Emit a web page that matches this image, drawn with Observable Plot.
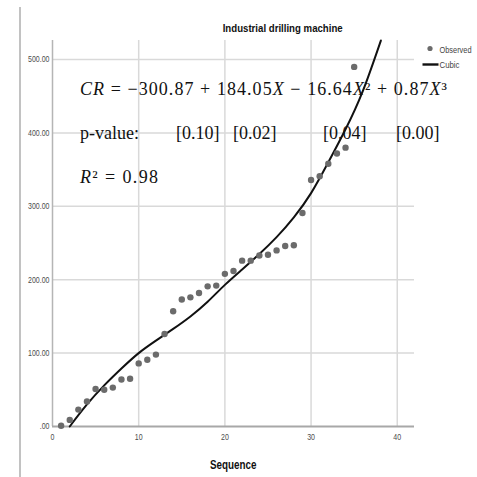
<!DOCTYPE html>
<html>
<head>
<meta charset="utf-8">
<script src="https://cdn.jsdelivr.net/npm/d3@7"></script>
<script src="https://cdn.jsdelivr.net/npm/@observablehq/plot@0.6"></script>
<style>
  html, body { margin: 0; padding: 0; background: #fff; }
  #chart { position: relative; width: 477px; height: 477px; }
</style>
</head>
<body>
<div id="chart"></div>
<script>
// ---- data ----
const sequence = [1,2,3,4,5,6,7,8,9,10,11,12,13,14,15,16,17,18,19,20,21,22,23,24,25,26,27,28,29,30,31,32,33,34,35];
const observed = [1,9,23,34,51,50,53,64,65,86,91,98,126,157,173,176,182,191,192,208,212,226,226,233,234,240,246,247,291,336,341,358,372,380,490];
// cubic fit line as drawn in the reference
const cubicX = [2,4,6,8,10,12,14,16,18,20,22,24,26,28,30,32,34,36,38.1];
const cubicY = [0,30,56,79,100,117,133,150,170,193,214,235,258,285,318,360,405,457,526];
const xTicks = [0,10,20,30,40];
const yTicks = [0,100,200,300,400,500];
const yTickLabels = [".00","100.00","200.00","300.00","400.00","500.00"];
const title = "Industrial drilling machine";
const xLabel = "Sequence";
const legendLabels = ["Observed","Cubic"];
const pLabel = "p-value:";
const pValues = ["[0.10]","[0.02]","[0.04]","[0.00]"];
const r2Value = "0.98";

const points = sequence.map((s, i) => ({s, v: observed[i]}));
const curve = cubicX.map((x, i) => ({x, y: cubicY[i]}));

const sans = '"Liberation Sans", Arial, sans-serif';
const serif = '"Liberation Serif", "DejaVu Serif", serif';

const chart = Plot.plot({
  width: 477,
  height: 477,
  marginLeft: 52,
  marginRight: 63,
  marginTop: 40,
  marginBottom: 51,
  x: {domain: [0, 42]},
  y: {domain: [0, 526]},
  style: {fontFamily: sans, background: "#fff", overflow: "visible"},
  marks: [
    Plot.gridY(yTicks.slice(1), {stroke: "#d9d9d9", strokeOpacity: 1, strokeWidth: 1.5}),
    Plot.gridX(xTicks.slice(1), {stroke: "#d9d9d9", strokeOpacity: 1, strokeWidth: 1.5}),
    Plot.axisY(yTicks, {
      tickSize: 0, tickPadding: 3, fontSize: 9, fill: "#4d4d4d",
      tickFormat: d => yTickLabels[yTicks.indexOf(d)], label: null
    }),
    Plot.axisX(xTicks, {
      tickSize: 0, tickPadding: 7, fontSize: 9, fill: "#4d4d4d", label: null
    }),
    Plot.ruleX([0], {stroke: "#b5b5b5", strokeWidth: 1.5}),
    Plot.ruleY([0], {stroke: "#a8a8a8", strokeWidth: 2.2}),
    Plot.line(curve, {x: "x", y: "y", stroke: "#111", strokeWidth: 2, curve: "natural"}),
    Plot.dot(points, {x: "s", y: "v", r: 3.2, fill: "#6b6b6b", stroke: "none"})
  ]
});

document.getElementById("chart").appendChild(chart);

const svg = d3.select(chart);

// make axis tick labels narrow (reference uses a condensed face)
svg.selectAll("g[aria-label='y-axis tick label'] text, g[aria-label='x-axis tick label'] text").each(function() {
  const w = this.getComputedTextLength();
  if (w > 0) {
    this.setAttribute("textLength", (w * 0.78).toFixed(2));
    this.setAttribute("lengthAdjust", "spacingAndGlyphs");
  }
});

// left border line
svg.append("line").attr("x1", 20).attr("x2", 20).attr("y1", 7).attr("y2", 477)
  .attr("stroke", "#c2c2c2").attr("stroke-width", 2);

function addText(x, y, txt, opts) {
  const t = svg.append("text").attr("x", x).attr("y", y)
    .attr("text-anchor", opts.anchor || "start")
    .attr("font-family", opts.family || sans)
    .attr("font-size", opts.size || 10)
    .attr("fill", opts.fill || "#111")
    .attr("font-weight", opts.weight || "normal")
    .text(txt);
  if (opts.len) t.attr("textLength", opts.len).attr("lengthAdjust", "spacingAndGlyphs");
  return t;
}

// title
addText(222.7, 32, title, {size: 11.5, weight: 600, len: 120});
// x label
addText(210, 469, xLabel, {size: 12.5, weight: 600, len: 46.5});

// legend
svg.append("circle").attr("cx", 430).attr("cy", 48.5).attr("r", 2.6).attr("fill", "#6b6b6b");
addText(439.5, 52.5, legendLabels[0], {size: 9, fill: "#444", len: 32});
svg.append("line").attr("x1", 422.5).attr("x2", 438.5).attr("y1", 64.5).attr("y2", 64.5)
  .attr("stroke", "#111").attr("stroke-width", 2.4);
addText(439.5, 68, legendLabels[1], {size: 9, fill: "#444", len: 20});

// equation annotation
const eq = svg.append("text").attr("x", 80).attr("y", 95).attr("text-anchor", "start")
  .attr("font-family", serif).attr("font-size", 18).attr("fill", "#111")
  .attr("textLength", 367).attr("lengthAdjust", "spacing");
eq.append("tspan").attr("font-style", "italic").text("CR");
eq.append("tspan").text(" = \u2212300.87 + 184.05");
eq.append("tspan").attr("font-style", "italic").text("X");
eq.append("tspan").text(" \u2212 16.64");
eq.append("tspan").attr("font-style", "italic").text("X");
eq.append("tspan").text("\u00B2 + 0.87");
eq.append("tspan").attr("font-style", "italic").text("X");
eq.append("tspan").text("\u00B3");

const pX = [176, 233, 323, 396];
addText(80, 138.5, pLabel, {family: serif, size: 18});
pValues.forEach((p, i) => addText(pX[i], 138.5, p, {family: serif, size: 18}));

const r2 = svg.append("text").attr("x", 80).attr("y", 182.5).attr("text-anchor", "start")
  .attr("font-family", serif).attr("font-size", 18).attr("fill", "#111")
  .attr("textLength", 78).attr("lengthAdjust", "spacing");
r2.append("tspan").attr("font-style", "italic").text("R");
r2.append("tspan").text("\u00B2 = " + r2Value);
</script>
</body>
</html>
